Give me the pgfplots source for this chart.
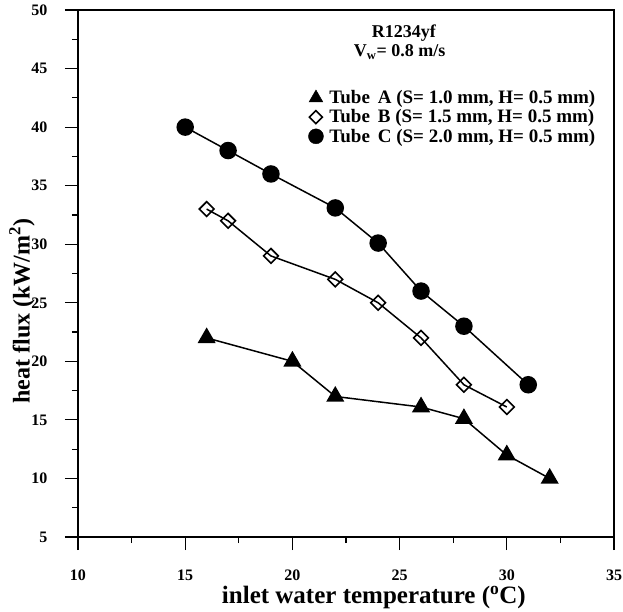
\documentclass[border=0pt]{standalone}
\usepackage{fontspec}
\setmainfont{Liberation Serif}
\usepackage{pgfplots}
\pgfplotsset{compat=1.18}
\begin{document}
\begin{tikzpicture}
\begin{axis}[
  scale only axis,
  width=536pt, height=527pt,
  xmin=10, xmax=35, ymin=5, ymax=50,
  xtick={10,15,...,35}, ytick={5,10,...,50},
  minor tick num=1,
  tick align=outside,
  xtick pos=bottom, ytick pos=left,
  major tick length=13pt, minor tick length=6pt,
  every tick/.style={line width=1.2pt, black},
  axis line style={line width=1.5pt},
  /pgf/number format/assume math mode=true,
  ticklabel style={font=\fontsize{16}{18}\selectfont\bfseries},
  xticklabel style={yshift=-16pt},
  yticklabel style={xshift=-14pt},
  xlabel={inlet water temperature (\textsuperscript{o}C)},
  ylabel={heat flux (kW/m\textsuperscript{2})},
  every axis x label/.style={at={(axis description cs:0.552,-0.1157)}, anchor=center,
    font=\fontsize{25}{27}\selectfont\bfseries},
  every axis y label/.style={at={(axis description cs:-0.1045,0.429)}, rotate=90, anchor=center,
    font=\fontsize{24}{26}\selectfont\bfseries},
  legend cell align=left,
  legend style={draw=none, fill=none, at={(0.424,0.855)}, anchor=north west,
    font=\fontsize{19}{20.5}\selectfont\bfseries, row sep=0.5pt,
    /tikz/every odd column/.append style={column sep=4pt}},
]
% Tube A
\addplot[line width=1.5pt, mark=triangle*, mark size=9pt, mark options={fill=black}, forget plot]
  coordinates {(16,22) (20,20) (22,17) (26,16.1) (28,15.1) (30,12) (32,10)};
% Tube B
\addplot[line width=1.5pt, mark=square, mark size=5.2pt, mark options={rotate=45, fill=white, line width=1.6pt}, forget plot]
  coordinates {(16,33) (17,32) (19,29) (22,27) (24,25) (26,22) (28,18) (30,16.1)};
% Tube C
\addplot[line width=1.5pt, mark=*, mark size=8pt, mark options={fill=black}, forget plot]
  coordinates {(15,40) (17,38) (19,36) (22,33.1) (24,30.1) (26,26) (28,23) (31,18)};
\addlegendimage{only marks, mark=triangle*, mark size=8pt, fill=black}
\addlegendentry{Tube\, A (S= 1.0 mm, H= 0.5 mm)}
\addlegendimage{only marks, mark=square, mark size=4.6pt, mark options={rotate=45, fill=white, line width=1.6pt}}
\addlegendentry{Tube\, B (S= 1.5 mm, H= 0.5 mm)}
\addlegendimage{only marks, mark=*, mark size=7.5pt, fill=black}
\addlegendentry{Tube\, C (S= 2.0 mm, H= 0.5 mm)}
\node[font=\fontsize{18}{20}\selectfont\bfseries] at (axis cs:25.2,48.0) {R1234yf};
\node[font=\fontsize{18}{20}\selectfont\bfseries] at (axis cs:25.0,46.4) {V\textsubscript{w}= 0.8 m/s};
\end{axis}
% page frame: same margins around the plot area as the figure layout
\pgfresetboundingbox
\path (-78pt,-74pt) rectangle (545pt,537pt);
\end{tikzpicture}
\end{document}
